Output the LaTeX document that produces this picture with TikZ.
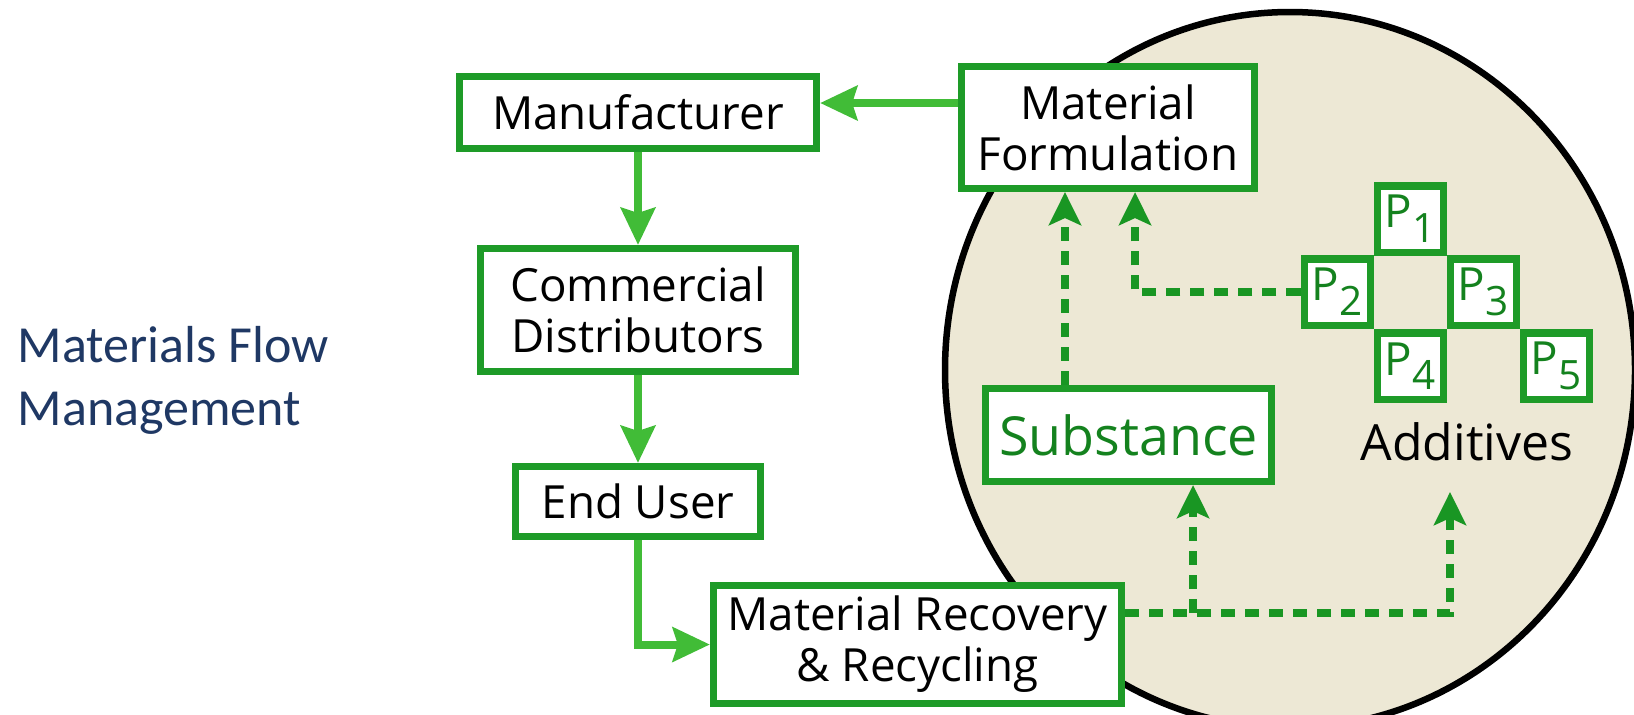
\documentclass[tikz,border=0pt]{standalone}
\usepackage{fontspec}
\setmainfont{Open Sans}
\newfontfamily\titlefont{Carlito}
\usetikzlibrary{arrows.meta,positioning,calc}
\definecolor{boxgreen}{RGB}{30,155,40}
\definecolor{arrgreen}{RGB}{65,188,55}
\definecolor{dgreen}{RGB}{25,150,35}
\definecolor{txtgreen}{RGB}{20,130,30}
\definecolor{beige}{RGB}{237,232,213}
\definecolor{titleblue}{RGB}{31,56,100}
\newcommand{\psub}[1]{\kern0.3pt\raisebox{-0.6ex}{\fontsize{11.5}{11.5}\selectfont #1}}
\tikzset{
  box/.style={draw=boxgreen,line width=0.07cm,fill=white,align=center,inner sep=0pt,
              font=\fontsize{13}{14.5}\selectfont},
  pbox/.style={draw=boxgreen,line width=0.07cm,fill=white,minimum size=0.66cm,inner sep=0pt,
               text=txtgreen,font=\fontsize{13}{13}\selectfont},
  arr/.style={draw=arrgreen,line width=0.08cm,-{Stealth[length=0.37cm,width=0.34cm,inset=0.05cm]}},
  darr/.style={draw=dgreen,line width=0.08cm,dash pattern=on 0.14cm off 0.1cm,
               -{Stealth[length=0.33cm,width=0.32cm,inset=0.07cm]}},
}
\begin{document}
\begin{tikzpicture}[x=0.01cm,y=-0.01cm]
  \useasboundingbox (0,0) rectangle (1634,714);
  % the disc behind the right part
  \begin{scope}
    \clip (0,0) rectangle (1634,714);
    \draw[line width=0.065cm,fill=beige] (1290,370) ellipse [x radius=345,y radius=358];
  \end{scope}

  \node[anchor=west,align=left,inner sep=0pt,text=titleblue,
        font=\titlefont\fontsize{14.8}{17.9}\selectfont] (title) at (17,380) {Materials Flow\\Management};

  \node[box,minimum width=3.57cm,minimum height=0.72cm] (manu) at (638,112.5) {Manufacturer};
  \node[box,minimum width=3.15cm,minimum height=1.23cm] (comm) at (638,310) {Commercial\\Distributors};
  \node[box,minimum width=2.45cm,minimum height=0.70cm] (user) at (638,501.5) {End User};
  \node[box,minimum width=4.08cm,minimum height=1.18cm] (recov) at (917.5,644.5) {Material Recovery\\\& Recycling};
  \node[box,minimum width=2.93cm,minimum height=1.22cm] (form) at (1108,127.5) {Material\\Formulation};
  \node[box,minimum width=2.86cm,minimum height=0.93cm,text=txtgreen,
        font=\fontsize{15.3}{18}\selectfont] (subst) at (1128.5,435) {Substance};

  \foreach \i/\x/\y in {1/1410/219,2/1337/292,3/1483/292,4/1410/366,5/1556/366}
    \node[pbox] (p\i) at (\x,\y) {P\psub{\i}};
  \node[font=\fontsize{14.2}{16}\selectfont] (adds) at (1467,442) {Additives};

  % main flow
  \draw[arr] ([yshift=0.095cm]manu.east -| form.west) -- ([yshift=0.095cm]manu.east);
  \draw[arr] (manu) -- (comm);
  \draw[arr] (comm) -- (user);
  \draw[arr] (user.south) |- (recov.west);

  % dashed feeds
  \coordinate (fin1) at ([xshift=-0.43cm]form.south);
  \coordinate (fin2) at ([xshift=0.27cm]form.south);
  \coordinate (sin) at ([xshift=0.645cm]subst.south);
  \coordinate (ain) at (1450,492);
  \coordinate (rout) at ([yshift=0.315cm]recov.east);
  \draw[darr] (subst.north -| fin1) -- (fin1);
  \draw[darr] (p2.west) -| (fin2);
  \draw[darr] (rout) -| (ain);
  \draw[darr] (rout -| sin) -- (sin);
\end{tikzpicture}
\end{document}
